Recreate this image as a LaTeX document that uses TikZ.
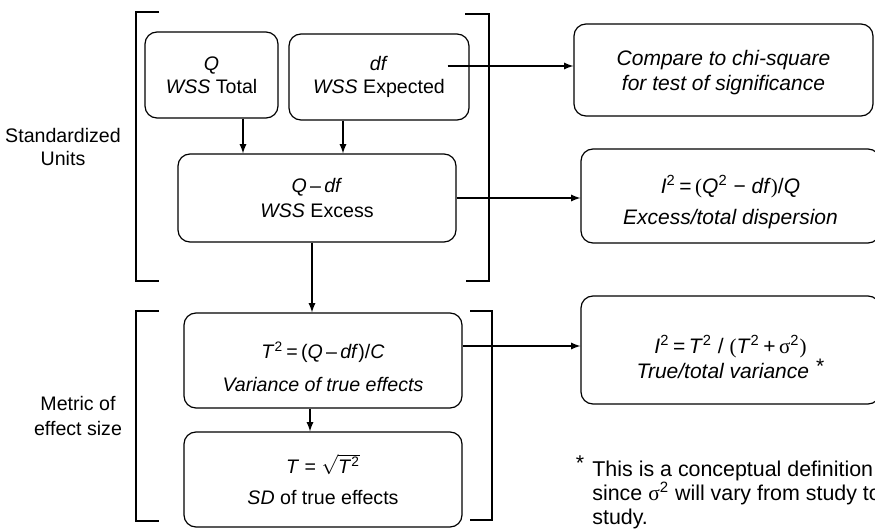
\documentclass[tikz,border=0pt]{standalone}
\usepackage{fontspec}
\setmainfont{Liberation Sans}
\newfontfamily\greekserif{Liberation Serif}
\usetikzlibrary{shapes.geometric, arrows}

\begin{document}
\begin{tikzpicture}[x=0.5pt, y=-0.5pt, node distance=59.5pt]
	\tikzstyle{unitbox} = [rectangle, rounded corners=6pt, draw=black, semithick, 
	inner sep=0pt, align=center, font=\fontsize{9.8}{11.5}\selectfont]
	\tikzstyle{ratiobox} = [unitbox, minimum width=149.5pt, 
	font=\fontsize{10.5}{12.5}\selectfont]
	\tikzstyle{bracket} = [semithick]
	\tikzstyle{arrow} = [semithick,->,>=latex]
	\useasboundingbox (0,0) rectangle (875,529);
	\clip (0,0) rectangle (875,529);
	% left column
	\node (totalQ) [unitbox, minimum width=66.5pt, minimum height=43pt] at (211.5,75) 
	{\textit{Q}\\\textit{WSS} Total};
	\node (expectedDf) [unitbox, minimum width=90pt, minimum height=43pt] at (379,77) 
	{\textit{df}\\\textit{WSS} Expected};
	\node (wssExcess) [unitbox, minimum width=139pt, minimum height=44pt] at (317,198) 
	{\textit{Q}\,–\,\textit{df}\\[1pt]\textit{WSS} Excess};
	\node (trueVar) [unitbox, minimum width=139pt, minimum height=47.5pt] at (323,360.5) 
	{\rule{0pt}{14.5pt}\textit{T}\textsuperscript{2}\,=\,(\textit{Q}\,–\,\textit{df})/\textit{C}\\[5pt]
	\textit{Variance of true effects}};
	\node (sdTrue) [unitbox, minimum width=139pt, minimum height=47.5pt, below of=trueVar] 
	{\textit{T} = $\sqrt{\mbox{\textit{T}\textsuperscript{2}}}$\\[4pt]\textit{SD} of true effects};
	% right column
	\node (compareChi) [ratiobox, minimum height=46pt] at (723.5,70) 
	{\rule{0pt}{10.6pt}\textit{Compare to chi-square}\\\textit{for test of significance}};
	\node (excessRatio) [ratiobox, minimum height=47pt] at (730.5,196) 
	{\rule{0pt}{15.5pt}\textit{I}\textsuperscript{2}\,=\,{\greekserif(}\textit{Q}\textsuperscript{2} − 
	\textit{df}{\greekserif)}/\textit{Q}\\[3pt]\textit{Excess/total dispersion}};
	\node (trueRatio) [ratiobox, minimum height=54pt] at (730.5,350) 
	{\rule{0pt}{16pt}\textit{I}\textsuperscript{2}\,=\,\textit{T}\textsuperscript{2} / 
	{\greekserif(}\textit{T}\textsuperscript{2}\,+\,{\greekserif σ}\textsuperscript{2}{\greekserif)}\\
	\textit{True/total variance}\,\,\raisebox{2.5pt}{*}};
	% side labels
	\node (stdUnits) [align=center, font=\fontsize{9.8}{11.5}\selectfont] at (63,147) 
	{Standardized\\Units};
	\node (metricSize) [align=center, font=\fontsize{9.8}{12.5}\selectfont] at (78,416) 
	{Metric of\\effect size};
	% footnote
	\node (noteStar) [font=\fontsize{10.7}{12}\selectfont] at (580,463) {*};
	\node (noteText) [anchor=north west, align=left, inner sep=0pt, 
	font=\fontsize{10.7}{12}\selectfont] at (592,461) 
	{This is a conceptual definition,\\since {\greekserif σ}\textsuperscript{2} will vary from study to\\study.};
	% brackets
	\draw [bracket] (159,12) -- (136,12) -- (136,281) -- (159,281);
	\draw [bracket] (465,14) -- (489,14) -- (489,281) -- (466,281);
	\draw [bracket] (159,311) -- (136,311) -- (136,521) -- (159,521);
	\draw [bracket] (470,311) -- (492,311) -- (492,520) -- (470,520);
	% connectors
	\coordinate (dfOut) at ([xshift=-11pt, yshift=5.5pt]expectedDf.east);
	\draw [arrow] ([xshift=15.75pt]totalQ.south) -- ([xshift=15.75pt]totalQ.south |- wssExcess.north);
	\draw [arrow] ([xshift=-18pt]expectedDf.south) -- ([xshift=-18pt]expectedDf.south |- wssExcess.north);
	\draw [arrow] ([xshift=-2.5pt]wssExcess.south) -- ([xshift=-2.5pt]wssExcess.south |- trueVar.north);
	\draw [arrow] ([xshift=-6.5pt]trueVar.south) -- ([xshift=-6.5pt]trueVar.south |- sdTrue.north);
	\draw [arrow] (dfOut) -- (dfOut -| compareChi.west);
	\draw [arrow] (wssExcess.east) -- (wssExcess.east -| excessRatio.west);
	\draw [arrow] ([yshift=7.25pt]trueVar.east) -- ([yshift=7.25pt]trueVar.east -| trueRatio.west);
\end{tikzpicture}
\end{document}
